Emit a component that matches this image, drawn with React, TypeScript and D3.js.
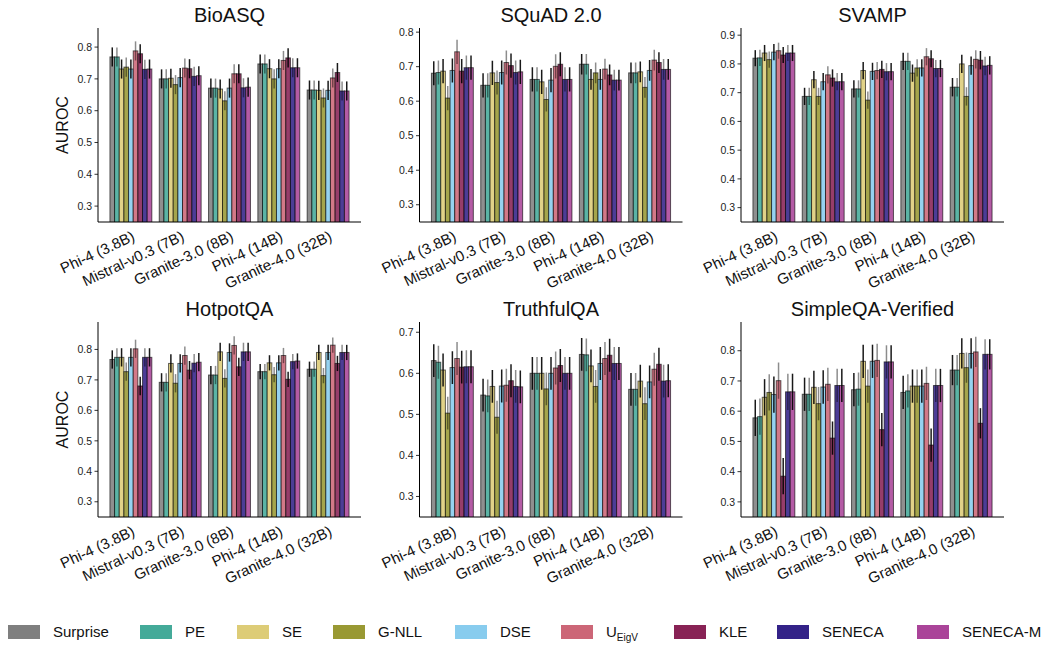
import React, { useEffect, useRef } from 'react';
import * as d3 from 'd3';

const methods = ['Surprise', 'PE', 'SE', 'G-NLL', 'DSE', 'UEigV', 'KLE', 'SENECA', 'SENECA-M'];
const colors = ['#7f7f7f', '#44aa99', '#ddcc77', '#999933', '#88ccee', '#cc6677', '#882255', '#332288', '#aa4499'];
const models = ['Phi-4 (3.8B)', 'Mistral-v0.3 (7B)', 'Granite-3.0 (8B)', 'Phi-4 (14B)', 'Granite-4.0 (32B)'];
const datasets = ['BioASQ', 'SQuAD 2.0', 'SVAMP', 'HotpotQA', 'TruthfulQA', 'SimpleQA-Verified'];
const yTicks = [0.3, 0.4, 0.5, 0.6, 0.7, 0.8, 0.9];

// one row per model, one column per method (AUROC)
const bioasq = [
  [0.769, 0.769, 0.731, 0.737, 0.731, 0.788, 0.779, 0.730, 0.731],
  [0.700, 0.700, 0.702, 0.682, 0.704, 0.734, 0.732, 0.708, 0.710],
  [0.671, 0.671, 0.668, 0.631, 0.671, 0.716, 0.716, 0.672, 0.674],
  [0.747, 0.747, 0.732, 0.700, 0.732, 0.758, 0.766, 0.735, 0.735],
  [0.665, 0.665, 0.664, 0.640, 0.664, 0.703, 0.720, 0.662, 0.662],
];
const squad = [
  [0.681, 0.683, 0.687, 0.609, 0.689, 0.743, 0.687, 0.697, 0.697],
  [0.646, 0.646, 0.682, 0.654, 0.683, 0.712, 0.703, 0.683, 0.685],
  [0.663, 0.663, 0.656, 0.605, 0.661, 0.701, 0.707, 0.663, 0.663],
  [0.707, 0.707, 0.663, 0.682, 0.663, 0.693, 0.676, 0.661, 0.661],
  [0.682, 0.682, 0.685, 0.640, 0.689, 0.719, 0.712, 0.692, 0.692],
];
const svamp = [
  [0.820, 0.821, 0.838, 0.815, 0.841, 0.846, 0.831, 0.838, 0.838],
  [0.687, 0.687, 0.745, 0.687, 0.738, 0.762, 0.751, 0.738, 0.738],
  [0.713, 0.713, 0.777, 0.674, 0.774, 0.777, 0.781, 0.773, 0.773],
  [0.809, 0.809, 0.768, 0.786, 0.786, 0.825, 0.818, 0.784, 0.784],
  [0.719, 0.719, 0.800, 0.687, 0.794, 0.816, 0.813, 0.793, 0.795],
];
const hotpotqa = [
  [0.767, 0.774, 0.774, 0.727, 0.774, 0.802, 0.680, 0.774, 0.774],
  [0.692, 0.692, 0.754, 0.689, 0.754, 0.780, 0.732, 0.755, 0.758],
  [0.716, 0.716, 0.792, 0.705, 0.790, 0.813, 0.743, 0.792, 0.792],
  [0.727, 0.727, 0.756, 0.717, 0.756, 0.780, 0.702, 0.760, 0.762],
  [0.735, 0.735, 0.790, 0.714, 0.790, 0.814, 0.754, 0.790, 0.790],
];
const truthfulqa = [
  [0.631, 0.627, 0.608, 0.503, 0.614, 0.636, 0.615, 0.616, 0.616],
  [0.547, 0.545, 0.568, 0.493, 0.569, 0.571, 0.582, 0.568, 0.567],
  [0.600, 0.600, 0.600, 0.562, 0.600, 0.613, 0.619, 0.600, 0.600],
  [0.646, 0.645, 0.618, 0.568, 0.624, 0.636, 0.644, 0.624, 0.624],
  [0.561, 0.561, 0.581, 0.526, 0.579, 0.610, 0.622, 0.581, 0.582],
];
const simpleqa = [
  [0.578, 0.582, 0.646, 0.662, 0.655, 0.701, 0.385, 0.664, 0.664],
  [0.656, 0.656, 0.679, 0.625, 0.680, 0.689, 0.511, 0.685, 0.685],
  [0.671, 0.673, 0.765, 0.683, 0.765, 0.768, 0.539, 0.763, 0.763],
  [0.662, 0.667, 0.683, 0.683, 0.683, 0.692, 0.488, 0.685, 0.685],
  [0.736, 0.736, 0.791, 0.744, 0.791, 0.796, 0.560, 0.788, 0.788],
];

// half-width of the error bars, per model
const bioasqErr = [0.030, 0.030, 0.030, 0.030, 0.030];
const squadErr = [0.035, 0.035, 0.035, 0.030, 0.030];
const svampErr = [0.028, 0.030, 0.030, 0.030, 0.032];
const hotpotqaErr = [0.030, 0.030, 0.030, 0.025, 0.025];
const truthfulqaErr = [0.040, 0.040, 0.040, 0.040, 0.040];
const simpleqaErr = [0.060, 0.055, 0.055, 0.055, 0.050];

const allValues = [bioasq, squad, svamp, hotpotqa, truthfulqa, simpleqa];
const allErrs = [bioasqErr, squadErr, svampErr, hotpotqaErr, truthfulqaErr, simpleqaErr];
const yMax = [0.86, 0.812, 0.925, 0.89, 0.725, 0.895];

const FONT = '"Liberation Sans", Arial, Helvetica, sans-serif';

const App = () => {
  const svgRef = useRef(null);

  useEffect(() => {
    document.body.style.margin = '0';
    const svg = d3.select(svgRef.current);
    svg.selectAll('*').remove();

    const W = 1048, H = 645;
    svg.attr('width', W).attr('height', H).style('font-family', FONT);

    const panelLeft = [98, 419.5, 741];
    const rowTop = [28, 322];
    const rowBottom = [222, 517];
    const pw = 263;
    const groupWidth = 0.85;
    const bw = groupWidth / methods.length;

    datasets.forEach((name, k) => {
      const col = k % 3, row = Math.floor(k / 3);
      const x0 = panelLeft[col];
      const top = rowTop[row], bottom = rowBottom[row];
      const g = svg.append('g');

      const x = d3.scaleLinear().domain([-0.667, 4.667]).range([x0, x0 + pw]);
      const y = d3.scaleLinear().domain([0.25, yMax[k]]).range([bottom, top]);

      const clip = g.append('clipPath').attr('id', `clip${k}`);
      clip.append('rect').attr('x', x0).attr('y', top - 10).attr('width', pw).attr('height', bottom - top + 10);
      const plot = g.append('g').attr('clip-path', `url(#clip${k})`);

      const vals = allValues[k];
      const errs = allErrs[k];
      vals.forEach((rowVals, i) => {
        rowVals.forEach((v, j) => {
          const cx = i - groupWidth / 2 + bw * (j + 0.5);
          plot.append('rect')
            .attr('x', x(cx - bw / 2))
            .attr('y', y(v))
            .attr('width', x(bw) - x(0))
            .attr('height', bottom + 5 - y(v))
            .attr('fill', colors[j])
            .attr('fill-opacity', 0.88)
            .attr('stroke', '#000')
            .attr('stroke-opacity', 0.6)
            .attr('stroke-width', 1);
          plot.append('line')
            .attr('x1', x(cx)).attr('x2', x(cx))
            .attr('y1', y(v - errs[i])).attr('y2', y(v + errs[i]))
            .attr('stroke', '#000')
            .attr('stroke-opacity', j % 2 === 0 ? 0.9 : 0.45)
            .attr('stroke-width', 1.5);
        });
      });

      // axes
      g.append('line').attr('x1', x0).attr('x2', x0).attr('y1', top).attr('y2', bottom)
        .attr('stroke', '#000').attr('stroke-width', 1);
      g.append('line').attr('x1', x0).attr('x2', x0 + pw).attr('y1', bottom).attr('y2', bottom)
        .attr('stroke', '#000').attr('stroke-width', 1);

      yTicks.filter(t => t <= yMax[k] + 1e-9).forEach(t => {
        g.append('line').attr('x1', x0 - 3.5).attr('x2', x0).attr('y1', y(t)).attr('y2', y(t))
          .attr('stroke', '#000').attr('stroke-width', 0.8);
        g.append('text').attr('x', x0 - 6).attr('y', y(t)).attr('dy', '0.35em')
          .attr('text-anchor', 'end').attr('font-size', 10.5).attr('fill', '#222')
          .text(d3.format('.1f')(t));
      });

      models.forEach((m, i) => {
        const tx = x(i) + 5, ty = bottom + 18;
        g.append('text').attr('transform', `translate(${tx},${ty}) rotate(-25)`)
          .attr('text-anchor', 'end').attr('font-size', 15).attr('fill', '#111')
          .text(m);
      });

      g.append('text').attr('x', x0 + pw / 2).attr('y', top - 6)
        .attr('text-anchor', 'middle').attr('font-size', 20).attr('fill', '#111')
        .text(name);

      if (col === 0) {
        g.append('text').attr('transform', `translate(${x0 - 30},${(top + bottom) / 2}) rotate(-90)`)
          .attr('text-anchor', 'middle').attr('font-size', 16).attr('fill', '#111')
          .text('AUROC');
      }
    });

    // legend
    const legendX = [8, 140, 237, 333, 455, 561, 674, 777, 917];
    const ly = 632;
    methods.forEach((m, j) => {
      const lg = svg.append('g').attr('transform', `translate(${legendX[j]},${ly})`);
      lg.append('rect').attr('x', 0).attr('y', -7).attr('width', 32).attr('height', 14)
        .attr('fill', colors[j]);
      const t = lg.append('text').attr('x', 45).attr('y', 0).attr('dy', '0.35em')
        .attr('font-size', 15).attr('fill', '#111');
      if (m === 'UEigV') {
        t.append('tspan').text('U');
        t.append('tspan').attr('font-size', 10).attr('dy', 4).text('EigV');
      } else {
        t.text(m);
      }
    });
  }, []);

  return <svg ref={svgRef} style={{ display: 'block' }} />;
};

export default App;
